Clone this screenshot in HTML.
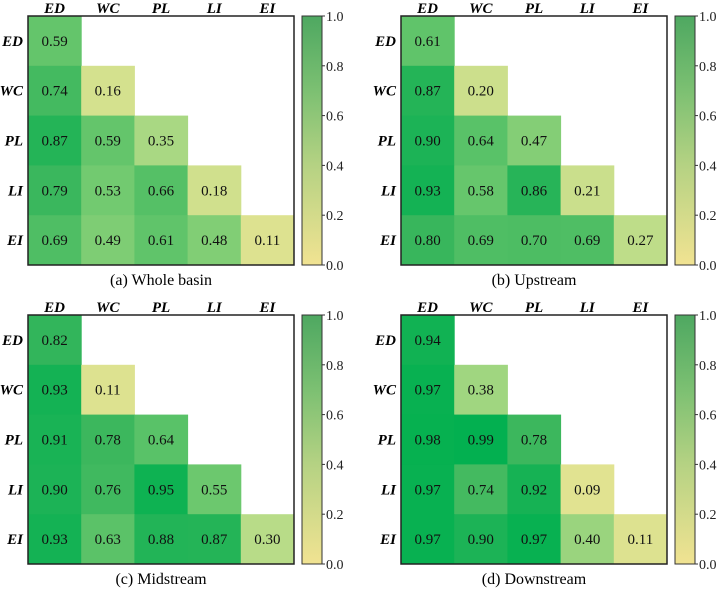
<!DOCTYPE html>
<html><head><meta charset="utf-8"><style>
body{margin:0;background:#fff;}
svg{display:block;font-family:"Liberation Serif",serif;}
</style></head><body>
<svg id="fig" width="718" height="591"></svg>
<script>
const vars=["ED","WC","PL","LI","EI"];
const panelTitles=["(a)  Whole basin","(b)  Upstream","(c)  Midstream","(d)  Downstream"];
const valsA=[[0.59],[0.74,0.16],[0.87,0.59,0.35],[0.79,0.53,0.66,0.18],[0.69,0.49,0.61,0.48,0.11]];
const valsB=[[0.61],[0.87,0.20],[0.90,0.64,0.47],[0.93,0.58,0.86,0.21],[0.80,0.69,0.70,0.69,0.27]];
const valsC=[[0.82],[0.93,0.11],[0.91,0.78,0.64],[0.90,0.76,0.95,0.55],[0.93,0.63,0.88,0.87,0.30]];
const valsD=[[0.94],[0.97,0.38],[0.98,0.99,0.78],[0.97,0.74,0.92,0.09],[0.97,0.90,0.97,0.40,0.11]];
const cbTicks=["0.0","0.2","0.4","0.6","0.8","1.0"];
const allVals=[valsA,valsB,valsC,valsD];
const NS="http://www.w3.org/2000/svg";
const svg=document.getElementById('fig');
function mk(tag,attrs,parent){const e=document.createElementNS(NS,tag);for(const k in attrs)e.setAttribute(k,attrs[k]);(parent||svg).appendChild(e);return e;}
const stops=[[0,[243,230,149]],[0.3,[184,220,136]],[0.55,[108,200,110]],[0.8,[56,182,92]],[1,[0,176,79]]];
function color(v){for(let i=1;i<stops.length;i++){if(v<=stops[i][0]){const a=stops[i-1],b=stops[i];const t=(v-a[0])/(b[0]-a[0]);const c=a[1].map((x,j)=>Math.round(x+(b[1][j]-x)*t));return `rgb(${c})`;}}return 'rgb(0,176,79)';}
const defs=mk('defs',{});
const lg=mk('linearGradient',{id:'cbg',x1:0,y1:1,x2:0,y2:0},defs);
mk('stop',{offset:'0','stop-color':'#f1e392'},lg);
mk('stop',{offset:'0.4','stop-color':'#b5d283'},lg);
mk('stop',{offset:'0.7','stop-color':'#7cc072'},lg);
mk('stop',{offset:'1','stop-color':'#4ea861'},lg);
const origins=[[28,16],[401,16],[28,315],[401,315]];
const W=266,H=249,n=5,cw=W/n,ch=H/n;
allVals.forEach((vals,p)=>{
  const [ox,oy]=origins[p];
  const g=mk('g',{});
  
  
  const xs=i=>ox+i*cw, ys=j=>oy+j*ch;
  vals.forEach((row,r)=>row.forEach((v,c)=>{
    const rc=mk('rect',{x:xs(c),y:ys(r),width:cw+0.5,height:ch+0.5,fill:color(v)},g);
    
    
    const t=mk('text',{x:xs(c)+cw/2,y:ys(r)+ch/2+5,'text-anchor':'middle','font-size':'15',fill:'#111'},g);
    t.textContent=v.toFixed(2);
    
    
  }));
  mk('rect',{x:ox,y:oy,width:W,height:H,fill:'none',stroke:'#222','stroke-width':1.5},g);
  vars.forEach((nm,i)=>{
    const t=mk('text',{x:xs(i)+cw/2,y:oy-3,'text-anchor':'middle','font-size':'15','font-weight':'bold','font-style':'italic'},g);
    t.textContent=nm;
    
    
    const t2=mk('text',{x:ox-5,y:ys(i)+ch/2+5,'text-anchor':'end','font-size':'15','font-weight':'bold','font-style':'italic'},g);
    t2.textContent=nm;
    
    
  });
  const cx=ox+W+8,cwid=20;
  const cb=mk('rect',{x:cx,y:oy,width:cwid,height:H,fill:'url(#cbg)',stroke:'#333','stroke-width':1},g);
  
  
  const cy=v=>oy+H-v*H;
  cbTicks.forEach(s=>{
    const v=parseFloat(s);
    mk('line',{x1:cx+cwid,x2:cx+cwid+3,y1:cy(v),y2:cy(v),stroke:'#333'},g);
    const t=mk('text',{x:cx+cwid+4,y:cy(v)+5,'font-size':'14',fill:'#222'},g);
    t.textContent=s;
    
    
  });
  const cap=mk('text',{x:ox+W/2,y:oy+H+20,'text-anchor':'middle','font-size':'16'},g);
  cap.textContent=panelTitles[p];
  
  
});
</script>
</body></html>
